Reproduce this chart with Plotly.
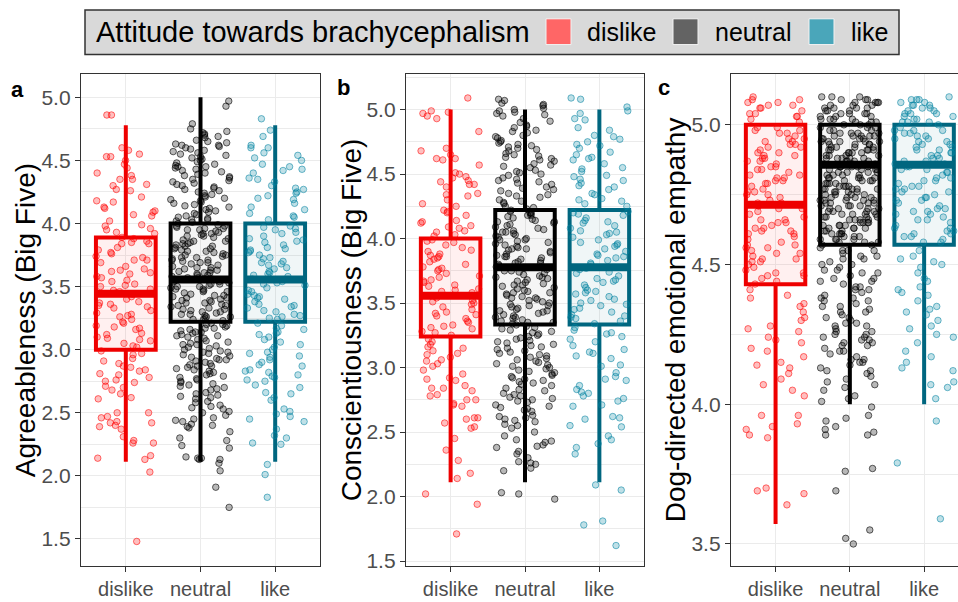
import numpy as np
import plotly.graph_objects as go

# ---------------- data ----------------
categories = ["dislike", "neutral", "like"]
legend_title = "Attitude towards brachycephalism"
panel_labels = ["a", "b", "c"]
y_titles = ["Agreeableness (Big Five)", "Conscientiousness (Big Five)", "Dog-directed emotional empathy"]
ticks_ab = [1.5, 2.0, 2.5, 3.0, 3.5, 4.0, 4.5, 5.0]
ticks_c = [3.5, 4.0, 4.5, 5.0]

# box statistics per panel (dislike, neutral, like)
a_q1 = [3.000, 3.222, 3.222]
a_med = [3.444, 3.556, 3.556]
a_q3 = [3.889, 4.000, 4.000]
a_lo = [2.111, 2.111, 2.111]
a_hi = [4.778, 5.000, 4.778]

b_q1 = [3.240, 3.333, 3.333]
b_med = [3.556, 3.778, 3.778]
b_q3 = [4.000, 4.222, 4.222]
b_lo = [2.111, 2.111, 2.111]
b_hi = [5.000, 5.000, 5.000]

c_q1 = [4.429, 4.571, 4.571]
c_med = [4.714, 4.857, 4.857]
c_q3 = [5.000, 5.000, 5.000]
c_lo = [3.571, 4.000, 4.000]
c_hi = [5.000, 5.000, 5.000]

a_dislike = [4.86, 4.86, 4.60, 4.58, 4.55, 4.53, 4.53, 4.50, 4.47, 4.44, 4.40, 4.38, 4.35, 4.35, 4.31, 4.27, 4.26, 4.21,
             4.18, 4.17, 4.13, 4.12, 4.09, 4.07, 4.06, 4.02, 3.99, 3.98, 3.96, 3.95, 3.93,
             3.89, 3.88, 3.85, 3.84, 3.84, 3.81, 3.79, 3.77, 3.76, 3.73, 3.71, 3.71, 3.69, 3.66, 3.64, 3.62, 3.61, 3.60,
             3.58, 3.57, 3.55, 3.52, 3.51, 3.50, 3.48, 3.47, 3.45, 3.44, 3.42, 3.40, 3.38, 3.37, 3.35, 3.34, 3.33, 3.31,
             3.29, 3.27, 3.26, 3.24, 3.22, 3.21, 3.19, 3.17, 3.16, 3.13, 3.12, 3.10, 3.08, 3.07, 3.05, 3.03, 3.02,
             2.97, 2.96, 2.93, 2.91, 2.87, 2.86, 2.84, 2.83, 2.81, 2.80, 2.76, 2.75, 2.74, 2.71, 2.70, 2.68, 2.62, 2.61,
             2.50, 2.50, 2.47, 2.46, 2.43, 2.42, 2.42, 2.40, 2.39, 2.37, 2.31, 2.28, 2.26, 2.26, 2.16, 2.14, 2.13, 2.03, 1.48,
             3.86, 3.74, 3.63, 3.54, 3.46, 3.36, 3.28, 3.18, 3.09, 2.99, 2.89, 2.78, 2.65, 4.30, 4.10, 3.92]
a_neutral = [4.97, 4.93, 4.79, 4.75, 4.73, 4.72, 4.71, 4.70, 4.68, 4.66, 4.65, 4.63, 4.62, 4.62, 4.60, 4.59, 4.57, 4.56,
             4.54, 4.53, 4.51, 4.50, 4.48, 4.46, 4.45, 4.45, 4.43, 4.41, 4.39, 4.38, 4.36, 4.35, 4.33, 4.32, 4.30, 4.29,
             4.28, 4.26, 4.25, 4.24, 4.22, 4.21, 4.20, 4.18, 4.17, 4.16, 4.14, 4.13, 4.12, 4.10, 4.09, 4.08, 4.07, 4.05,
             4.04, 4.03, 4.02, 4.01, 3.99, 3.98, 3.97, 3.96, 3.95, 3.95, 3.93, 3.92, 3.91, 3.90, 3.89, 3.87, 3.86, 3.85,
             3.84, 3.83, 3.82, 3.81, 3.80, 3.79, 3.78, 3.76, 3.75, 3.74, 3.73, 3.72, 3.71, 3.70, 3.69, 3.68, 3.66, 3.65,
             3.64, 3.63, 3.62, 3.61, 3.60, 3.59, 3.58, 3.57, 3.55, 3.54, 3.53, 3.52, 3.51, 3.50, 3.49, 3.48, 3.47, 3.46,
             3.44, 3.43, 3.42, 3.41, 3.40, 3.39, 3.38, 3.37, 3.36, 3.35, 3.33, 3.32, 3.31, 3.30, 3.29, 3.28, 3.27, 3.26,
             3.25, 3.24, 3.23, 3.21, 3.20, 3.19, 3.18, 3.17, 3.16, 3.15, 3.14, 3.13, 3.12, 3.11, 3.10, 3.09, 3.08, 3.06,
             3.05, 3.04, 3.03, 3.02, 3.00, 2.99, 2.98, 2.97, 2.96, 2.94, 2.93, 2.92, 2.91, 2.89, 2.88, 2.87, 2.86, 2.85,
             2.83, 2.82, 2.80, 2.79, 2.77, 2.76, 2.74, 2.73, 2.71, 2.70, 2.69, 2.66, 2.65, 2.63, 2.62, 2.61, 2.58, 2.56,
             2.54, 2.53, 2.51, 2.48, 2.46, 2.45, 2.43, 2.41, 2.40, 2.38, 2.35, 2.30, 2.28, 2.24, 2.22, 2.15, 2.14, 2.14,
             2.10, 2.04, 1.91, 1.75,
             4.69, 4.64, 4.61, 4.58, 4.55, 4.52, 4.49, 4.47, 4.44, 4.42, 4.40, 4.37, 4.34, 4.31, 4.27, 4.23, 4.19, 4.15,
             4.11, 4.06, 4.03, 4.00, 3.98, 3.96, 3.94, 3.92, 3.90, 3.88, 3.86, 3.84, 3.82, 3.80, 3.78, 3.77, 3.75, 3.73,
             3.71, 3.69, 3.67, 3.65, 3.63, 3.61, 3.59, 3.57, 3.56, 3.54, 3.52, 3.50, 3.48, 3.46, 3.45, 3.43, 3.41, 3.39,
             3.37, 3.35, 3.34, 3.32, 3.30, 3.28, 3.26, 3.24, 3.20, 3.17, 3.14, 3.11, 3.07, 3.04, 3.01, 2.98, 2.95, 2.92,
             2.90, 2.87, 2.84, 2.81, 2.78, 2.75, 2.72, 2.68, 2.64, 2.59, 2.55, 2.50, 2.44, 2.39, 2.13, 2.13]
a_like = [4.83, 4.74, 4.69, 4.62, 4.60, 4.60, 4.56, 4.54, 4.52, 4.50, 4.47, 4.45, 4.42, 4.40, 4.36, 4.35, 4.33, 4.30,
          4.28, 4.27, 4.25, 4.22, 4.20, 4.19, 4.16, 4.13, 4.11, 4.08, 4.06, 4.03,
          3.98, 3.96, 3.95, 3.93, 3.92, 3.90, 3.88, 3.86, 3.85, 3.83, 3.81, 3.80, 3.78, 3.77, 3.75, 3.73, 3.72, 3.70,
          3.68, 3.67, 3.65, 3.64, 3.62, 3.61, 3.59, 3.58, 3.56, 3.54, 3.53, 3.51, 3.49, 3.47, 3.46, 3.44, 3.43, 3.41,
          3.40, 3.38, 3.36, 3.35, 3.33, 3.31, 3.30, 3.28, 3.27, 3.25, 3.24,
          3.21, 3.19, 3.17, 3.16, 3.14, 3.12, 3.10, 3.08, 3.06, 3.04, 3.02, 3.00, 2.97, 2.95, 2.94, 2.92, 2.90, 2.87,
          2.84, 2.83, 2.82, 2.80, 2.78, 2.76, 2.75, 2.72, 2.70, 2.66, 2.65, 2.62, 2.60, 2.53, 2.51, 2.49, 2.47, 2.45,
          2.43, 2.37, 2.32, 2.30, 2.26, 2.25, 2.09, 2.01, 1.83,
          3.97, 3.87, 3.79, 3.69, 3.60, 3.52, 3.42, 3.34, 3.26, 4.43, 4.24, 4.05, 3.13, 2.98, 2.88, 2.79]

b_dislike = [5.09, 4.99, 4.98, 4.97, 4.95, 4.93, 4.83, 4.70, 4.68, 4.65, 4.62, 4.62, 4.61, 4.57, 4.51, 4.50, 4.48, 4.47,
             4.44, 4.42, 4.42, 4.40, 4.35, 4.34, 4.33, 4.30, 4.27, 4.25, 4.21, 4.20, 4.18, 4.14, 4.13, 4.12, 4.10, 4.08,
             4.06, 4.05, 4.03, 4.02,
             3.99, 3.97, 3.95, 3.93, 3.91, 3.90, 3.88, 3.86, 3.85, 3.84, 3.82, 3.80, 3.78, 3.76, 3.75, 3.73, 3.71, 3.70,
             3.68, 3.66, 3.64, 3.63, 3.61, 3.60, 3.58, 3.56, 3.54, 3.52, 3.51, 3.49, 3.47, 3.45, 3.43, 3.42, 3.40, 3.38,
             3.36, 3.35, 3.33, 3.31, 3.30, 3.28, 3.27, 3.25,
             3.22, 3.20, 3.18, 3.15, 3.13, 3.11, 3.10, 3.08, 3.06, 3.05, 3.01, 2.98, 2.95, 2.92, 2.91, 2.90, 2.84, 2.84,
             2.82, 2.79, 2.78, 2.75, 2.75, 2.72, 2.71, 2.70, 2.61, 2.61, 2.60, 2.57, 2.54, 2.53, 2.45, 2.36, 2.28, 2.18,
             2.14, 2.02, 1.94, 1.71,
             3.98, 3.87, 3.77, 3.67, 3.59, 3.50, 3.41, 3.32, 4.45, 4.22, 4.09, 3.16, 3.03, 2.86]
b_neutral = [5.08, 5.07, 5.05, 5.04, 5.03, 5.01, 5.00, 4.99, 4.98, 4.97, 4.95, 4.93, 4.91, 4.88, 4.86, 4.84, 4.82, 4.80,
             4.78, 4.76, 4.74, 4.73, 4.71, 4.70, 4.68, 4.66, 4.65, 4.63, 4.62, 4.60, 4.58, 4.57, 4.55, 4.53, 4.52, 4.50,
             4.49, 4.47, 4.45, 4.44, 4.42, 4.40, 4.39, 4.37, 4.35, 4.34, 4.32, 4.30, 4.29, 4.27, 4.25, 4.24,
             4.21, 4.20, 4.19, 4.18, 4.16, 4.15, 4.14, 4.13, 4.11, 4.10, 4.09, 4.07, 4.06, 4.05, 4.04, 4.02, 4.01, 4.00,
             3.98, 3.97, 3.96, 3.95, 3.93, 3.92, 3.91, 3.90, 3.88, 3.87, 3.86, 3.85, 3.83, 3.82, 3.81, 3.80, 3.79, 3.77,
             3.76, 3.75, 3.74, 3.72, 3.71, 3.70, 3.69, 3.68, 3.66, 3.65, 3.64, 3.63, 3.61, 3.60, 3.59, 3.58, 3.56, 3.55,
             3.54, 3.53, 3.51, 3.50, 3.49, 3.48, 3.46, 3.45, 3.44, 3.43, 3.41, 3.40, 3.39, 3.38, 3.36, 3.35, 3.34,
             3.32, 3.31, 3.30, 3.29, 3.27, 3.26, 3.25, 3.24, 3.22, 3.21, 3.20, 3.19, 3.17, 3.16, 3.15, 3.13, 3.12, 3.10,
             3.09, 3.08, 3.06, 3.05, 3.03, 3.02, 3.00, 2.99, 2.97, 2.96, 2.94, 2.93, 2.91, 2.89, 2.88, 2.86, 2.84, 2.82,
             2.80, 2.78, 2.76, 2.75, 2.73, 2.71, 2.69, 2.68, 2.66, 2.63, 2.61, 2.60, 2.58, 2.56, 2.53, 2.50, 2.47, 2.44,
             2.42, 2.40, 2.38, 2.35, 2.33, 2.30, 2.27, 2.25, 2.22, 2.20, 2.03, 2.02, 1.98,
             4.96, 4.90, 4.87, 4.83, 4.79, 4.75, 4.72, 4.69, 4.64, 4.61, 4.56, 4.51, 4.46, 4.43, 4.38, 4.33, 4.28, 4.23,
             4.20, 4.17, 4.12, 4.08, 4.03, 3.99, 3.94, 3.89, 3.84, 3.78, 3.73, 3.67, 3.62, 3.57, 3.52, 3.47, 3.42, 3.37,
             3.33, 3.28, 3.23, 3.18, 3.14, 3.11, 3.07, 3.04, 3.01, 2.98, 2.95, 2.92, 2.90, 2.87, 2.83, 2.79, 2.77, 2.74,
             2.70, 2.67, 2.62, 2.59, 2.55, 2.43, 2.39, 2.26, 4.22, 4.18, 4.13, 4.05, 3.99, 3.92, 3.86, 3.81, 3.75, 3.70,
             3.64, 3.58, 3.54, 3.48, 3.44, 3.39, 3.35]
b_like = [5.09, 5.08, 5.02, 4.99, 4.97, 4.93, 4.92, 4.86, 4.84, 4.80, 4.79, 4.77, 4.75, 4.73, 4.72, 4.70, 4.67, 4.65,
          4.62, 4.61, 4.58, 4.55, 4.54, 4.52, 4.49, 4.48, 4.45, 4.43, 4.41, 4.40, 4.38, 4.35, 4.34, 4.31, 4.29, 4.27,
          4.25,
          4.21, 4.19, 4.18, 4.16, 4.14, 4.12, 4.10, 4.08, 4.06, 4.05, 4.03, 4.01, 3.99, 3.97, 3.96, 3.94, 3.92, 3.90,
          3.88, 3.87, 3.85, 3.83, 3.81, 3.80, 3.78, 3.76, 3.74, 3.73, 3.71, 3.69, 3.67, 3.66, 3.64, 3.62, 3.60, 3.59,
          3.57, 3.55, 3.53, 3.52, 3.50, 3.48, 3.46, 3.45, 3.43, 3.41, 3.39, 3.38, 3.36, 3.34,
          3.31, 3.29, 3.27, 3.24, 3.22, 3.20, 3.17, 3.14, 3.12, 3.09, 3.07, 3.02, 3.01, 2.96, 2.93, 2.90, 2.86, 2.83,
          2.81, 2.80, 2.78, 2.76, 2.74, 2.71, 2.70, 2.62, 2.61, 2.60, 2.55, 2.54, 2.47, 2.44, 2.41, 2.38, 2.33, 2.09,
          2.05, 1.81, 1.78, 1.62,
          4.20, 4.13, 4.04, 3.95, 3.86, 3.77, 3.68, 3.58, 3.49, 3.40, 4.63, 4.46, 4.30, 3.26, 3.11, 2.91]

c_dislike = [5.10, 5.09, 5.09, 5.08, 5.07, 5.07, 5.06, 5.05, 5.04, 5.04, 5.03, 5.02, 5.01,
             4.99, 4.98, 4.97, 4.97, 4.96, 4.95, 4.95, 4.94, 4.94, 4.93, 4.92, 4.92, 4.91, 4.90, 4.89, 4.88, 4.88, 4.87,
             4.87, 4.86, 4.85, 4.85, 4.84, 4.83, 4.82, 4.82, 4.81, 4.80, 4.80, 4.79, 4.78, 4.77, 4.76, 4.76, 4.75, 4.74,
             4.73, 4.72, 4.71, 4.71, 4.70, 4.69, 4.68, 4.67, 4.66, 4.66, 4.65, 4.64, 4.63, 4.62, 4.62, 4.61, 4.60, 4.59,
             4.58, 4.57, 4.57, 4.56, 4.55, 4.54, 4.53, 4.52, 4.52, 4.51, 4.50, 4.49, 4.48, 4.47, 4.47, 4.46, 4.45, 4.44,
             4.41, 4.39, 4.38, 4.36, 4.35, 4.33, 4.31, 4.30, 4.28, 4.27, 4.26, 4.24, 4.23, 4.22, 4.20, 4.19, 4.17, 4.15,
             4.14, 4.13, 4.11, 4.09, 4.07, 4.05, 4.03,
             3.96, 3.96, 3.93, 3.92, 3.91, 3.89, 3.88, 3.70, 3.69, 3.68, 3.64,
             5.08, 5.06, 5.03, 4.98, 4.93, 4.89, 4.84, 4.79, 4.75, 4.70, 4.65, 4.61, 4.56, 4.51, 4.46, 4.99, 4.90, 4.81,
             4.72, 4.63, 4.54, 4.43]
c_neutral = [5.10, 5.10, 5.09, 5.09, 5.08, 5.08, 5.08, 5.07, 5.07, 5.06, 5.06, 5.06, 5.05, 5.05, 5.04, 5.04, 5.04, 5.03,
             5.03, 5.02, 5.02, 5.02, 5.01, 5.01, 5.00, 5.00, 4.99, 4.99, 4.98, 4.98,
             4.97, 4.97, 4.97, 4.96, 4.96, 4.96, 4.96, 4.95, 4.95, 4.95, 4.94, 4.94, 4.94, 4.94, 4.93, 4.93, 4.93, 4.92,
             4.92, 4.92, 4.91, 4.91, 4.91, 4.91, 4.90, 4.90, 4.90, 4.89, 4.89, 4.89, 4.88, 4.88, 4.88, 4.88, 4.87, 4.87,
             4.87, 4.86, 4.86, 4.86, 4.85, 4.85, 4.85, 4.85, 4.84, 4.84, 4.84, 4.83, 4.83, 4.83, 4.82, 4.82, 4.82, 4.81,
             4.81, 4.81, 4.81, 4.80, 4.80, 4.80, 4.79, 4.79, 4.79, 4.78, 4.78, 4.78, 4.77, 4.77, 4.77, 4.77, 4.76, 4.76,
             4.76, 4.75, 4.75, 4.75, 4.74, 4.74, 4.74, 4.73, 4.73, 4.73, 4.73, 4.72, 4.72, 4.72, 4.71, 4.71, 4.71, 4.70,
             4.70, 4.70, 4.69, 4.69, 4.69, 4.68, 4.68, 4.68, 4.67, 4.67, 4.67, 4.66, 4.66, 4.66, 4.65, 4.65, 4.65, 4.64,
             4.64, 4.64, 4.63, 4.63, 4.63, 4.62, 4.62, 4.61, 4.61, 4.61, 4.60, 4.60, 4.59, 4.59, 4.59, 4.58, 4.58, 4.57,
             4.57,
             4.56, 4.55, 4.55, 4.54, 4.53, 4.53, 4.52, 4.51, 4.50, 4.50, 4.49, 4.48, 4.47, 4.47, 4.46, 4.45, 4.44, 4.44,
             4.43, 4.42, 4.41, 4.41, 4.40, 4.39, 4.38, 4.37, 4.37, 4.36, 4.35, 4.34, 4.33, 4.33, 4.32, 4.31, 4.30, 4.29,
             4.29, 4.28, 4.27, 4.26, 4.25, 4.25, 4.24, 4.23, 4.22, 4.21, 4.21, 4.20, 4.19, 4.18, 4.17, 4.16, 4.15, 4.15,
             4.14, 4.13, 4.12, 4.11, 4.10, 4.09, 4.08, 4.07, 4.06, 4.05, 4.03, 4.02, 4.01,
             3.99, 3.96, 3.95, 3.94, 3.92, 3.91, 3.90, 3.89, 3.89, 3.77, 3.76, 3.69, 3.55, 3.52, 3.50,
             5.09, 5.07, 5.05, 5.03, 5.01, 5.00, 4.99, 4.98, 4.96, 4.95, 4.93, 4.92, 4.90, 4.89, 4.87, 4.86, 4.84, 4.83,
             4.81, 4.80, 4.78, 4.77, 4.75, 4.74, 4.72, 4.71, 4.69, 4.68, 4.66, 4.65, 4.63, 4.62, 4.60, 4.59, 4.58,
             5.10, 5.08, 5.06, 5.04, 5.02, 4.97, 4.94, 4.91, 4.88, 4.85, 4.82, 4.79, 4.76, 4.73, 4.70, 4.67, 4.64, 4.61,
             4.55, 4.52, 4.48, 4.45, 4.42, 4.38, 4.35, 4.31, 4.28, 4.24, 4.22, 4.19, 4.26, 4.23, 4.16, 4.12]
c_like = [5.10, 5.09, 5.09, 5.08, 5.08, 5.07, 5.07, 5.06, 5.06, 5.05, 5.05, 5.04, 5.04, 5.03, 5.03, 5.02, 5.02, 5.01,
          5.01, 5.00,
          4.99, 4.98, 4.98, 4.97, 4.96, 4.96, 4.95, 4.94, 4.94, 4.93, 4.93, 4.92, 4.91, 4.91, 4.90, 4.89, 4.89, 4.88,
          4.87, 4.87, 4.86, 4.85, 4.85, 4.84, 4.83, 4.83, 4.82, 4.81, 4.80, 4.80, 4.79, 4.78, 4.77, 4.77, 4.76, 4.75,
          4.74, 4.73, 4.73, 4.72, 4.71, 4.70, 4.69, 4.68, 4.68, 4.67, 4.66, 4.65, 4.64, 4.63, 4.62, 4.62, 4.61, 4.60,
          4.59, 4.58, 4.58,
          4.55, 4.53, 4.52, 4.51, 4.49, 4.47, 4.45, 4.44, 4.42, 4.40, 4.39, 4.37, 4.35, 4.33, 4.32, 4.30, 4.28, 4.27,
          4.25, 4.24, 4.22, 4.19, 4.17, 4.15, 4.13, 4.12, 4.08, 4.07, 4.06, 4.02,
          3.94, 3.79, 3.59,
          5.09, 5.07, 5.04, 5.01, 4.97, 4.95, 4.92, 4.88, 4.84, 4.81, 4.78, 4.74, 4.70, 4.66, 4.63, 4.60, 4.98, 4.90,
          4.86, 4.76, 4.69, 4.61, 4.50, 4.41, 4.34]

# ---------------- styling ----------------
FONT = "Liberation Sans, Arial, sans-serif"
W, H = 958, 602
line_colors = ["#EE0000", "#000000", "#00667F"]
point_rgb = [(255, 0, 0), (0, 0, 0), (0, 130, 160)]
point_alpha = [(0.25, 0.55), (0.28, 0.6), (0.25, 0.55)]
box_fill = ["rgba(255,0,0,0.06)", "rgba(0,0,0,0.04)", "rgba(0,102,127,0.06)"]
key_colors = ["#FF6666", "#636363", "#4AA6BA"]

panels = [
    dict(pts=[a_dislike, a_neutral, a_like], q1=a_q1, med=a_med, q3=a_q3, lo=a_lo, hi=a_hi,
         xdom=(81, 320), xr=[0.4, 3.6], yr=[1.283, 5.183], ticks=ticks_ab),
    dict(pts=[b_dislike, b_neutral, b_like], q1=b_q1, med=b_med, q3=b_q3, lo=b_lo, hi=b_hi,
         xdom=(406, 644), xr=[0.4, 3.6], yr=[1.459, 5.274], ticks=ticks_ab),
    dict(pts=[c_dislike, c_neutral, c_like], q1=c_q1, med=c_med, q3=c_q3, lo=c_lo, hi=c_hi,
         xdom=(731, 958), xr=[0.4, 3.456], yr=[3.42, 5.181], ticks=ticks_c),
]


def jitter(n, salt):
    # deterministic horizontal spread of the points (jitter width 0.4 each side)
    k = np.arange(n, dtype=float)
    h = np.abs(np.sin(k * 12.9898 + salt * 78.233)) * 43758.5453
    return (h - np.floor(h) - 0.5) * 0.8


fig = go.Figure()
ydom = [1 - 572 / H, 1 - 75 / H]

for p, pan in enumerate(panels):
    sx = "" if p == 0 else str(p + 1)
    xa, ya = "x" + sx, "y" + sx
    for g in range(3):
        vals = np.array(pan["pts"][g], dtype=float)
        r, gg, b = point_rgb[g]
        fa, la = point_alpha[g]
        fig.add_trace(go.Scatter(
            x=(g + 1) + jitter(len(vals), p * 3 + g + 1), y=vals, mode="markers",
            marker=dict(size=6.5, color=f"rgba({r},{gg},{b},{fa})",
                        line=dict(color=f"rgba({r},{gg},{b},{la})", width=1)),
            xaxis=xa, yaxis=ya, showlegend=False, hoverinfo="skip"))
    for g in range(3):
        fig.add_trace(go.Box(
            x=[g + 1], q1=[pan["q1"][g]], median=[pan["med"][g]], q3=[pan["q3"][g]],
            lowerfence=[pan["lo"][g]], upperfence=[pan["hi"][g]],
            width=0.8, whiskerwidth=0, boxpoints=False,
            line=dict(color=line_colors[g], width=4), fillcolor=box_fill[g],
            xaxis=xa, yaxis=ya, showlegend=False, hoverinfo="skip"))
        fig.add_trace(go.Scatter(
            x=[g + 0.6, g + 1.4], y=[pan["med"][g], pan["med"][g]], mode="lines",
            line=dict(color=line_colors[g], width=8),
            xaxis=xa, yaxis=ya, showlegend=False, hoverinfo="skip"))

    last = p == 2
    fig.update_layout(**{
        "xaxis" + sx: dict(
            domain=[pan["xdom"][0] / W, pan["xdom"][1] / W], range=pan["xr"], anchor=ya,
            tickmode="array", tickvals=[1, 2, 3], ticktext=categories,
            showgrid=True, gridcolor="#EBEBEB", gridwidth=1.2, zeroline=False,
            showline=True, linecolor="#333333", linewidth=1.3, mirror=True,
            ticks="outside", ticklen=5, tickwidth=1.2, tickcolor="#333333",
            tickfont=dict(family=FONT, size=20, color="#4D4D4D")),
        "yaxis" + sx: dict(
            domain=ydom, range=pan["yr"], anchor=xa,
            tickmode="array", tickvals=pan["ticks"], tickformat=".1f",
            showgrid=True, gridcolor="#EBEBEB", gridwidth=1.2, zeroline=False,
            minor=dict(showgrid=True, dtick=0.25, tick0=0, gridcolor="#EBEBEB", gridwidth=0.6),
            showline=True, linecolor="#333333", linewidth=1.3, mirror=(not last),
            ticks="outside", ticklen=5, tickwidth=1.2, tickcolor="#333333",
            tickfont=dict(family=FONT, size=21, color="#4D4D4D")),
    })

annotations = []
shapes = []
title_x = [25, 351, 675]
for p in range(3):
    annotations.append(dict(
        text=y_titles[p], x=title_x[p] / W, y=(ydom[0] + ydom[1]) / 2, xref="paper", yref="paper",
        textangle=-90, showarrow=False, xanchor="center", yanchor="middle",
        font=dict(family=FONT, size=28, color="black")))
tag_pos = [(9, 90), (335, 88), (656, 88)]
for p in range(3):
    annotations.append(dict(
        text="<b>%s</b>" % panel_labels[p], x=tag_pos[p][0] / W, y=1 - tag_pos[p][1] / H,
        xref="paper", yref="paper", showarrow=False, xanchor="left", yanchor="middle",
        font=dict(family=FONT, size=22, color="black")))

# legend (drawn in paper coordinates)
shapes.append(dict(type="rect", xref="paper", yref="paper", x0=85 / W, x1=899 / W,
                   y0=1 - 55 / H, y1=1 - 10 / H, fillcolor="#D9D9D9",
                   line=dict(color="#333333", width=1.5), layer="above"))
annotations.append(dict(text=legend_title, x=94 / W, y=1 - 32 / H, xref="paper", yref="paper",
                        showarrow=False, xanchor="left", yanchor="middle",
                        font=dict(family=FONT, size=29, color="black")))
key_x = [546, 673, 809]
lab_x = [585, 713, 849]
for g in range(3):
    shapes.append(dict(type="rect", xref="paper", yref="paper", x0=key_x[g] / W, x1=(key_x[g] + 25) / W,
                       y0=1 - 45 / H, y1=1 - 19 / H, fillcolor=key_colors[g],
                       line=dict(color="#F2F2F2", width=1), layer="above"))
    annotations.append(dict(text=categories[g], x=lab_x[g] / W, y=1 - 32 / H, xref="paper", yref="paper",
                            showarrow=False, xanchor="left", yanchor="middle",
                            font=dict(family=FONT, size=25, color="black")))

fig.update_layout(
    width=W, height=H, margin=dict(l=0, r=0, t=0, b=0),
    paper_bgcolor="white", plot_bgcolor="white",
    showlegend=False, annotations=annotations, shapes=shapes,
    font=dict(family=FONT),
)

fig.write_html("out.html", config={"displayModeBar": False},
               post_script="document.body.style.margin='0';document.body.style.overflow='hidden';")
